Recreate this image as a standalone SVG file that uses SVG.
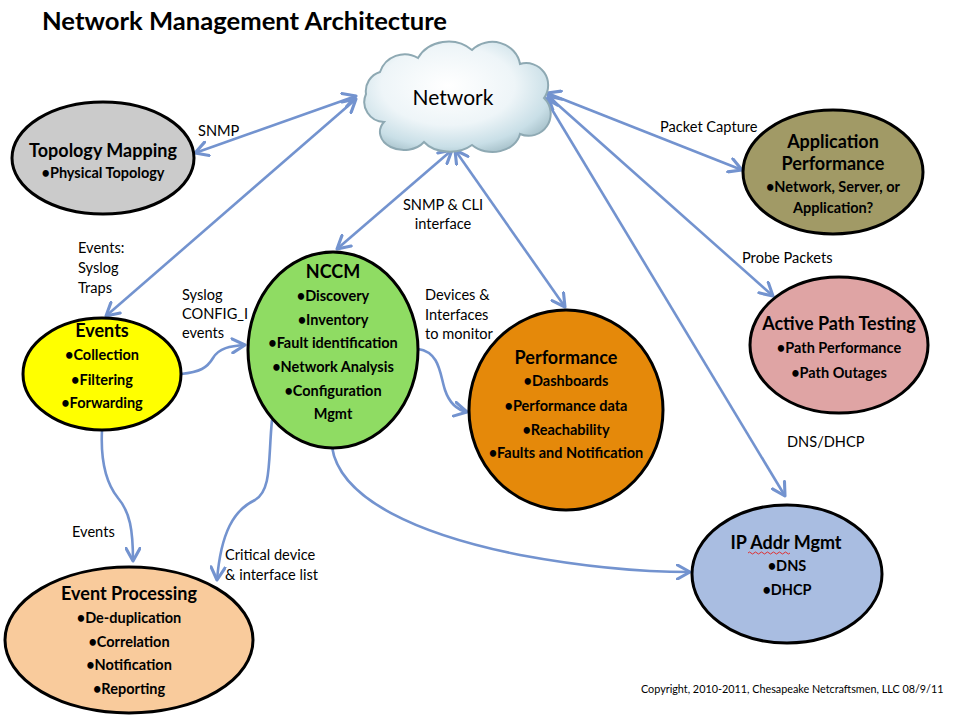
<svg xmlns="http://www.w3.org/2000/svg" width="961" height="722" viewBox="0 0 961 722">
<defs>
<style>
.node{stroke:#000;stroke-width:3}
.t{font-family:Lato,"Open Sans","Liberation Sans",sans-serif;font-weight:bold;fill:#000;text-anchor:middle}
.h{font-size:18px}
.b{font-size:14.5px}
.lbl{font-family:Lato,"Open Sans","Liberation Sans",sans-serif;font-size:14.6px;fill:#000}
.c{fill:none;stroke:#7393cf;stroke-width:2.6}
.bi{marker-start:url(#ah);marker-end:url(#ah)}
.one{marker-end:url(#ah)}
</style>
<marker id="ah" viewBox="0 0 12 12" refX="10" refY="6" markerWidth="6.5" markerHeight="6.5" orient="auto-start-reverse" markerUnits="strokeWidth">
<path d="M1,1 L10,6 L1,11" fill="none" stroke="#7393cf" stroke-width="2.2" stroke-linecap="round" stroke-linejoin="round"/>
</marker>
<radialGradient id="cg" cx="0.45" cy="0.4" r="0.65">
<stop offset="0" stop-color="#ffffff"/>
<stop offset="0.55" stop-color="#eef5f8"/>
<stop offset="0.85" stop-color="#c9dfe7"/>
<stop offset="1" stop-color="#a9c3cc"/>
</radialGradient>
</defs>
<rect width="961" height="722" fill="#fff"/>
<text x="42" y="30" textLength="405" lengthAdjust="spacingAndGlyphs" style="font-family:Lato,'Open Sans','Liberation Sans',sans-serif;font-weight:bold;font-size:25px">Network Management Architecture</text>

<g id="connectors">
<line class="c bi" x1="356" y1="96" x2="195" y2="153"/>
<line class="c bi" x1="356" y1="99" x2="106" y2="316"/>
<line class="c bi" x1="452" y1="150" x2="337" y2="249"/>
<line class="c bi" x1="455" y1="150" x2="565" y2="307"/>
<line class="c bi" x1="547" y1="93" x2="742" y2="170"/>
<line class="c bi" x1="548" y1="96" x2="773" y2="296"/>
<line class="c bi" x1="545" y1="98" x2="785" y2="496"/>
<path class="c one" d="M181,374 C200,372 207,368 213,358 C219,348 230,346 245,345"/>
<path class="c one" d="M418,349 C440,352 440,375 445,390 C450,405 458,410 467,412"/>
<path class="c one" d="M102,430 C100,470 110,488 118,498 C130,512 133,530 133,561"/>
<path class="c one" d="M272,420 C268,460 272,490 255,500 C234,510 221,532 217,580"/>
<path class="c one" d="M332,447 C340,500 420,535 520,555 C590,568 640,572 690,572"/>
</g>

<g id="labels">
<text class="lbl" x="198" y="136">SNMP</text>
<text class="lbl" x="78" y="253">Events:</text>
<text class="lbl" x="78" y="273">Syslog</text>
<text class="lbl" x="78" y="293">Traps</text>
<text class="lbl" x="182" y="300">Syslog</text>
<text class="lbl" x="182" y="319">CONFIG_I</text>
<text class="lbl" x="182" y="338">events</text>
<text class="lbl" x="443" y="210" text-anchor="middle">SNMP &amp; CLI</text>
<text class="lbl" x="443" y="229" text-anchor="middle">interface</text>
<text class="lbl" x="425" y="300">Devices &amp;</text>
<text class="lbl" x="425" y="320">Interfaces</text>
<text class="lbl" x="425" y="339">to monitor</text>
<text class="lbl" x="660" y="132">Packet Capture</text>
<text class="lbl" x="742" y="263">Probe Packets</text>
<text class="lbl" x="787" y="447">DNS/DHCP</text>
<text class="lbl" x="72" y="537">Events</text>
<text class="lbl" x="225" y="560">Critical device</text>
<text class="lbl" x="225" y="580">&amp; interface list</text>
</g>

<g id="network">
<path d="M384,122 A20,20 0 0 1 366,94 A20,20 0 0 1 380,72 A26,26 0 0 1 418,58 A34,30 0 0 1 472,50 A28,26 0 0 1 520,64 A22,22 0 0 1 544,98 A22,22 0 0 1 520,134 A28,22 0 0 1 472,145 A30,20 0 0 1 424,142 A24,18 0 0 1 384,122 Z" fill="url(#cg)" stroke="#8ea9b3" stroke-width="2"/>
<text x="453" y="105" style="font-family:Lato,'Open Sans','Liberation Sans',sans-serif;font-size:21px;text-anchor:middle">Network</text>
</g>

<g id="topology">
<ellipse class="node" cx="103" cy="158" rx="91" ry="56" fill="#cbcbcb"/>
<text class="t h" x="103" y="157">Topology Mapping</text>
<text class="t b" x="103" y="178">•Physical Topology</text>
</g>

<g id="appperf">
<ellipse class="node" cx="833" cy="172" rx="90" ry="62" fill="#a19a66"/>
<text class="t h" x="833" y="148">Application</text>
<text class="t h" x="833" y="170">Performance</text>
<text class="t b" x="833" y="192">•Network, Server, or</text>
<text class="t b" x="833" y="213">Application?</text>
</g>

<g id="nccm">
<ellipse class="node" cx="333" cy="350" rx="85" ry="98" fill="#8fdc63"/>
<text class="t h" x="333" y="278">NCCM</text>
<text class="t b" x="333" y="301">•Discovery</text>
<text class="t b" x="333" y="325">•Inventory</text>
<text class="t b" x="333" y="348">•Fault identification</text>
<text class="t b" x="333" y="372">•Network Analysis</text>
<text class="t b" x="333" y="396">•Configuration</text>
<text class="t b" x="333" y="419">Mgmt</text>
</g>

<g id="events">
<ellipse class="node" cx="102" cy="374" rx="79" ry="56" fill="#ffff00"/>
<text class="t h" x="102" y="337">Events</text>
<text class="t b" x="102" y="360">•Collection</text>
<text class="t b" x="102" y="385">•Filtering</text>
<text class="t b" x="102" y="408">•Forwarding</text>
</g>

<g id="performance">
<ellipse class="node" cx="566" cy="410" rx="97" ry="100" fill="#e5890a"/>
<text class="t h" x="566" y="364">Performance</text>
<text class="t b" x="566" y="386">•Dashboards</text>
<text class="t b" x="566" y="411">•Performance data</text>
<text class="t b" x="566" y="435">•Reachability</text>
<text class="t b" x="566" y="458">•Faults and Notification</text>
</g>

<g id="activepath">
<ellipse class="node" cx="839" cy="345" rx="89" ry="68" fill="#dfa4a4"/>
<text class="t h" x="839" y="330">Active Path Testing</text>
<text class="t b" x="839" y="353">•Path Performance</text>
<text class="t b" x="839" y="378">•Path Outages</text>
</g>

<g id="ipaddr">
<ellipse class="node" cx="787" cy="574" rx="95" ry="69" fill="#a9bde1"/>
<text class="t h" x="786" y="549">IP Addr Mgmt</text>
<path d="M748,553 q1.5,-2 3,0 t3,0 t3,0 t3,0 t3,0 t3,0 t3,0 t3,0 t3,0 t3,0 t3,0 t3,0 t3,0 t3,0" fill="none" stroke="#e03030" stroke-width="1"/>
<text class="t b" x="787" y="571">•DNS</text>
<text class="t b" x="787" y="595">•DHCP</text>
</g>

<g id="eventproc">
<ellipse class="node" cx="129" cy="640" rx="124" ry="73" fill="#f9cb9c"/>
<text class="t h" x="129" y="600">Event Processing</text>
<text class="t b" x="129" y="623">•De-duplication</text>
<text class="t b" x="129" y="647">•Correlation</text>
<text class="t b" x="129" y="670">•Notification</text>
<text class="t b" x="129" y="694">•Reporting</text>
</g>

<text x="641" y="693" style="font-family:Lato,'Open Sans','Liberation Sans',sans-serif;font-size:10.8px">Copyright, 2010-2011, Chesapeake Netcraftsmen, LLC 08/9/11</text>
</svg>
